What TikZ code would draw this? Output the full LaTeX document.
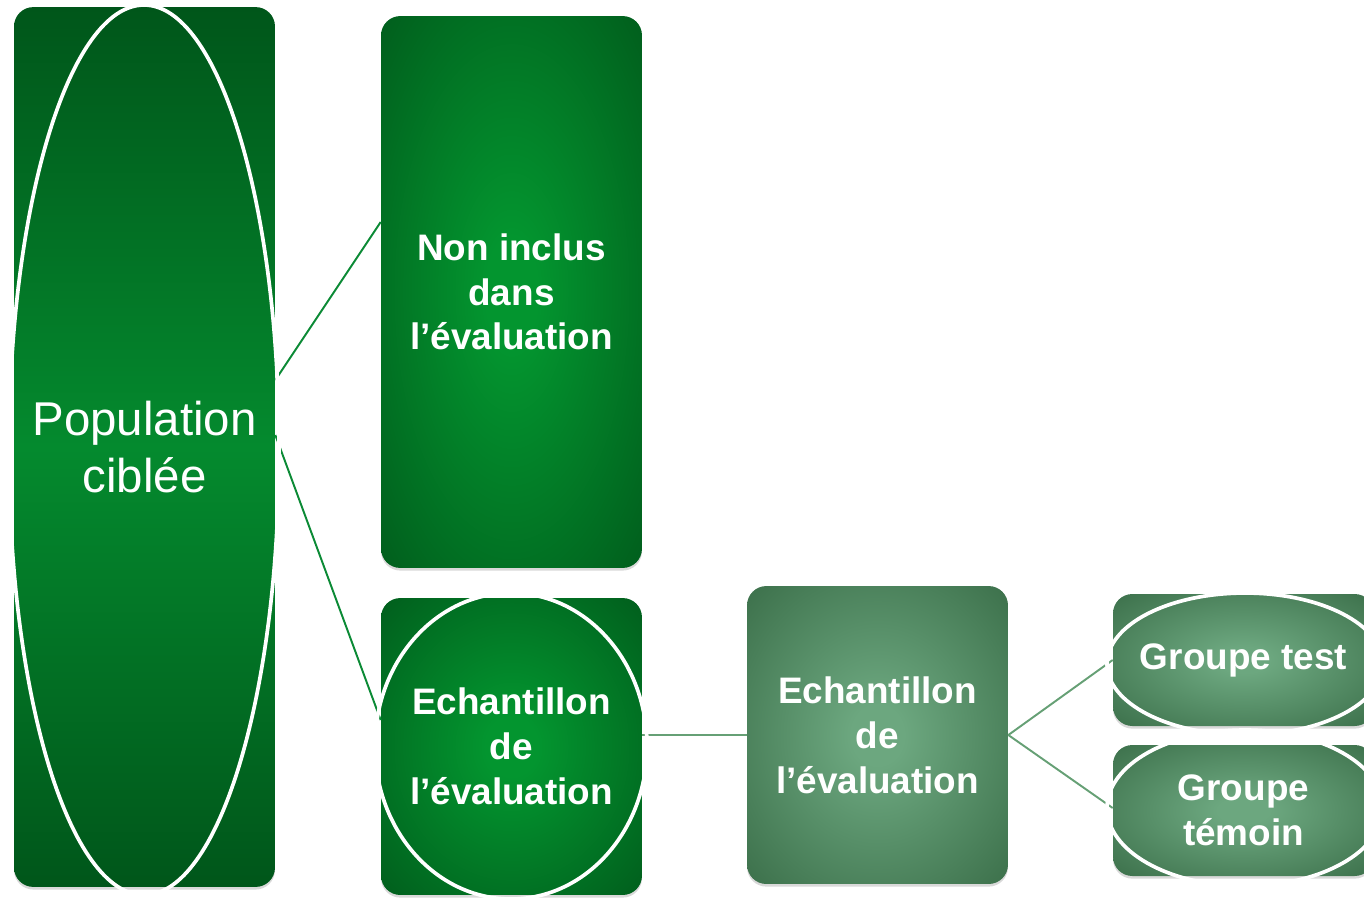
\documentclass[tikz,border=0pt]{standalone}
\usepackage{fontspec}
\setmainfont{Liberation Sans}
\usetikzlibrary{positioning, shadows}

\definecolor{popdark}{HTML}{00561A}
\definecolor{popmid}{HTML}{048A2E}
\definecolor{gdark}{HTML}{00561A}
\definecolor{gbright}{HTML}{03952F}
\definecolor{sdark}{HTML}{356843}
\definecolor{sbright}{HTML}{6CA77F}
\definecolor{linkdark}{HTML}{0B8A35}
\definecolor{linkpale}{HTML}{66A075}

\pgfdeclareradialshading{glowgreen}{\pgfpoint{0bp}{0bp}}{color(0bp)=(gbright); color(5bp)=(gbright); color(40bp)=(gdark); color(72bp)=(gdark)}
\pgfdeclareradialshading{glowsage}{\pgfpoint{0bp}{0bp}}{color(0bp)=(sbright); color(5bp)=(sbright); color(40bp)=(sdark); color(72bp)=(sdark)}

\tikzset{
	box/.style={rounded corners=11pt, minimum width=5.22cm, text=white, align=center,
		font=\fontsize{21}{25.5}\selectfont\bfseries,
		drop shadow={opacity=0.3, shadow xshift=0pt, shadow yshift=-1.5pt}},
	brightbox/.style={box, shading=glowgreen},
	palebox/.style={box, shading=glowsage},
	ring/.style={draw=white, line width=2.1pt},
	link/.style={line width=1.1pt},
}

\begin{document}
\begin{tikzpicture}[x=0.02cm, y=-0.02cm]
			\useasboundingbox (0,0) rectangle (1364,900);
			\clip (0,0) rectangle (1364,900);

			\node[box, top color=popdark, bottom color=popdark, middle color=popmid,
				minimum height=17.6cm, font=\fontsize{27}{32.3}\selectfont] (pop) at (144.5,447) {Population\\ciblée};
			\node[brightbox, minimum height=11.04cm] (nonincl) at (511.5,292) {Non inclus\\dans\\l’évaluation};
			\node[brightbox, minimum height=5.94cm] (echA) at (511.5,746.5) {Echantillon\\de\\l’évaluation};
			\node[palebox, minimum height=5.96cm] (echB) at (877.5,735) {Echantillon\\de\\l’évaluation};
			\node[palebox, minimum height=2.64cm] (test) at (1243.5,660) {Groupe test};
			\node[palebox, minimum height=2.62cm] (temoin) at (1243.5,810.5) {Groupe\\témoin};

			\path[link, draw=linkdark]
			([yshift=1.34cm]pop.east) edge ([yshift=1.4cm]nonincl.west)
			([yshift=0.24cm]pop.east) edge ([yshift=0.53cm]echA.west);
			\path[link, draw=linkpale]
			(echA.east |- echB.west) edge (echB.west)
			(echB.east) edge (test.west)
			(echB.east) edge ([yshift=0.05cm]temoin.west);

			% les ellipses blanches par-dessus
			\draw[ring] (144,450) ellipse (135 and 445);
			\draw[ring] (511,746) ellipse (136 and 153);
			\draw[ring] (1245,664) ellipse (138 and 71);
			\draw[ring] (1245,808) ellipse (138 and 78);
		\end{tikzpicture}
\end{document}
